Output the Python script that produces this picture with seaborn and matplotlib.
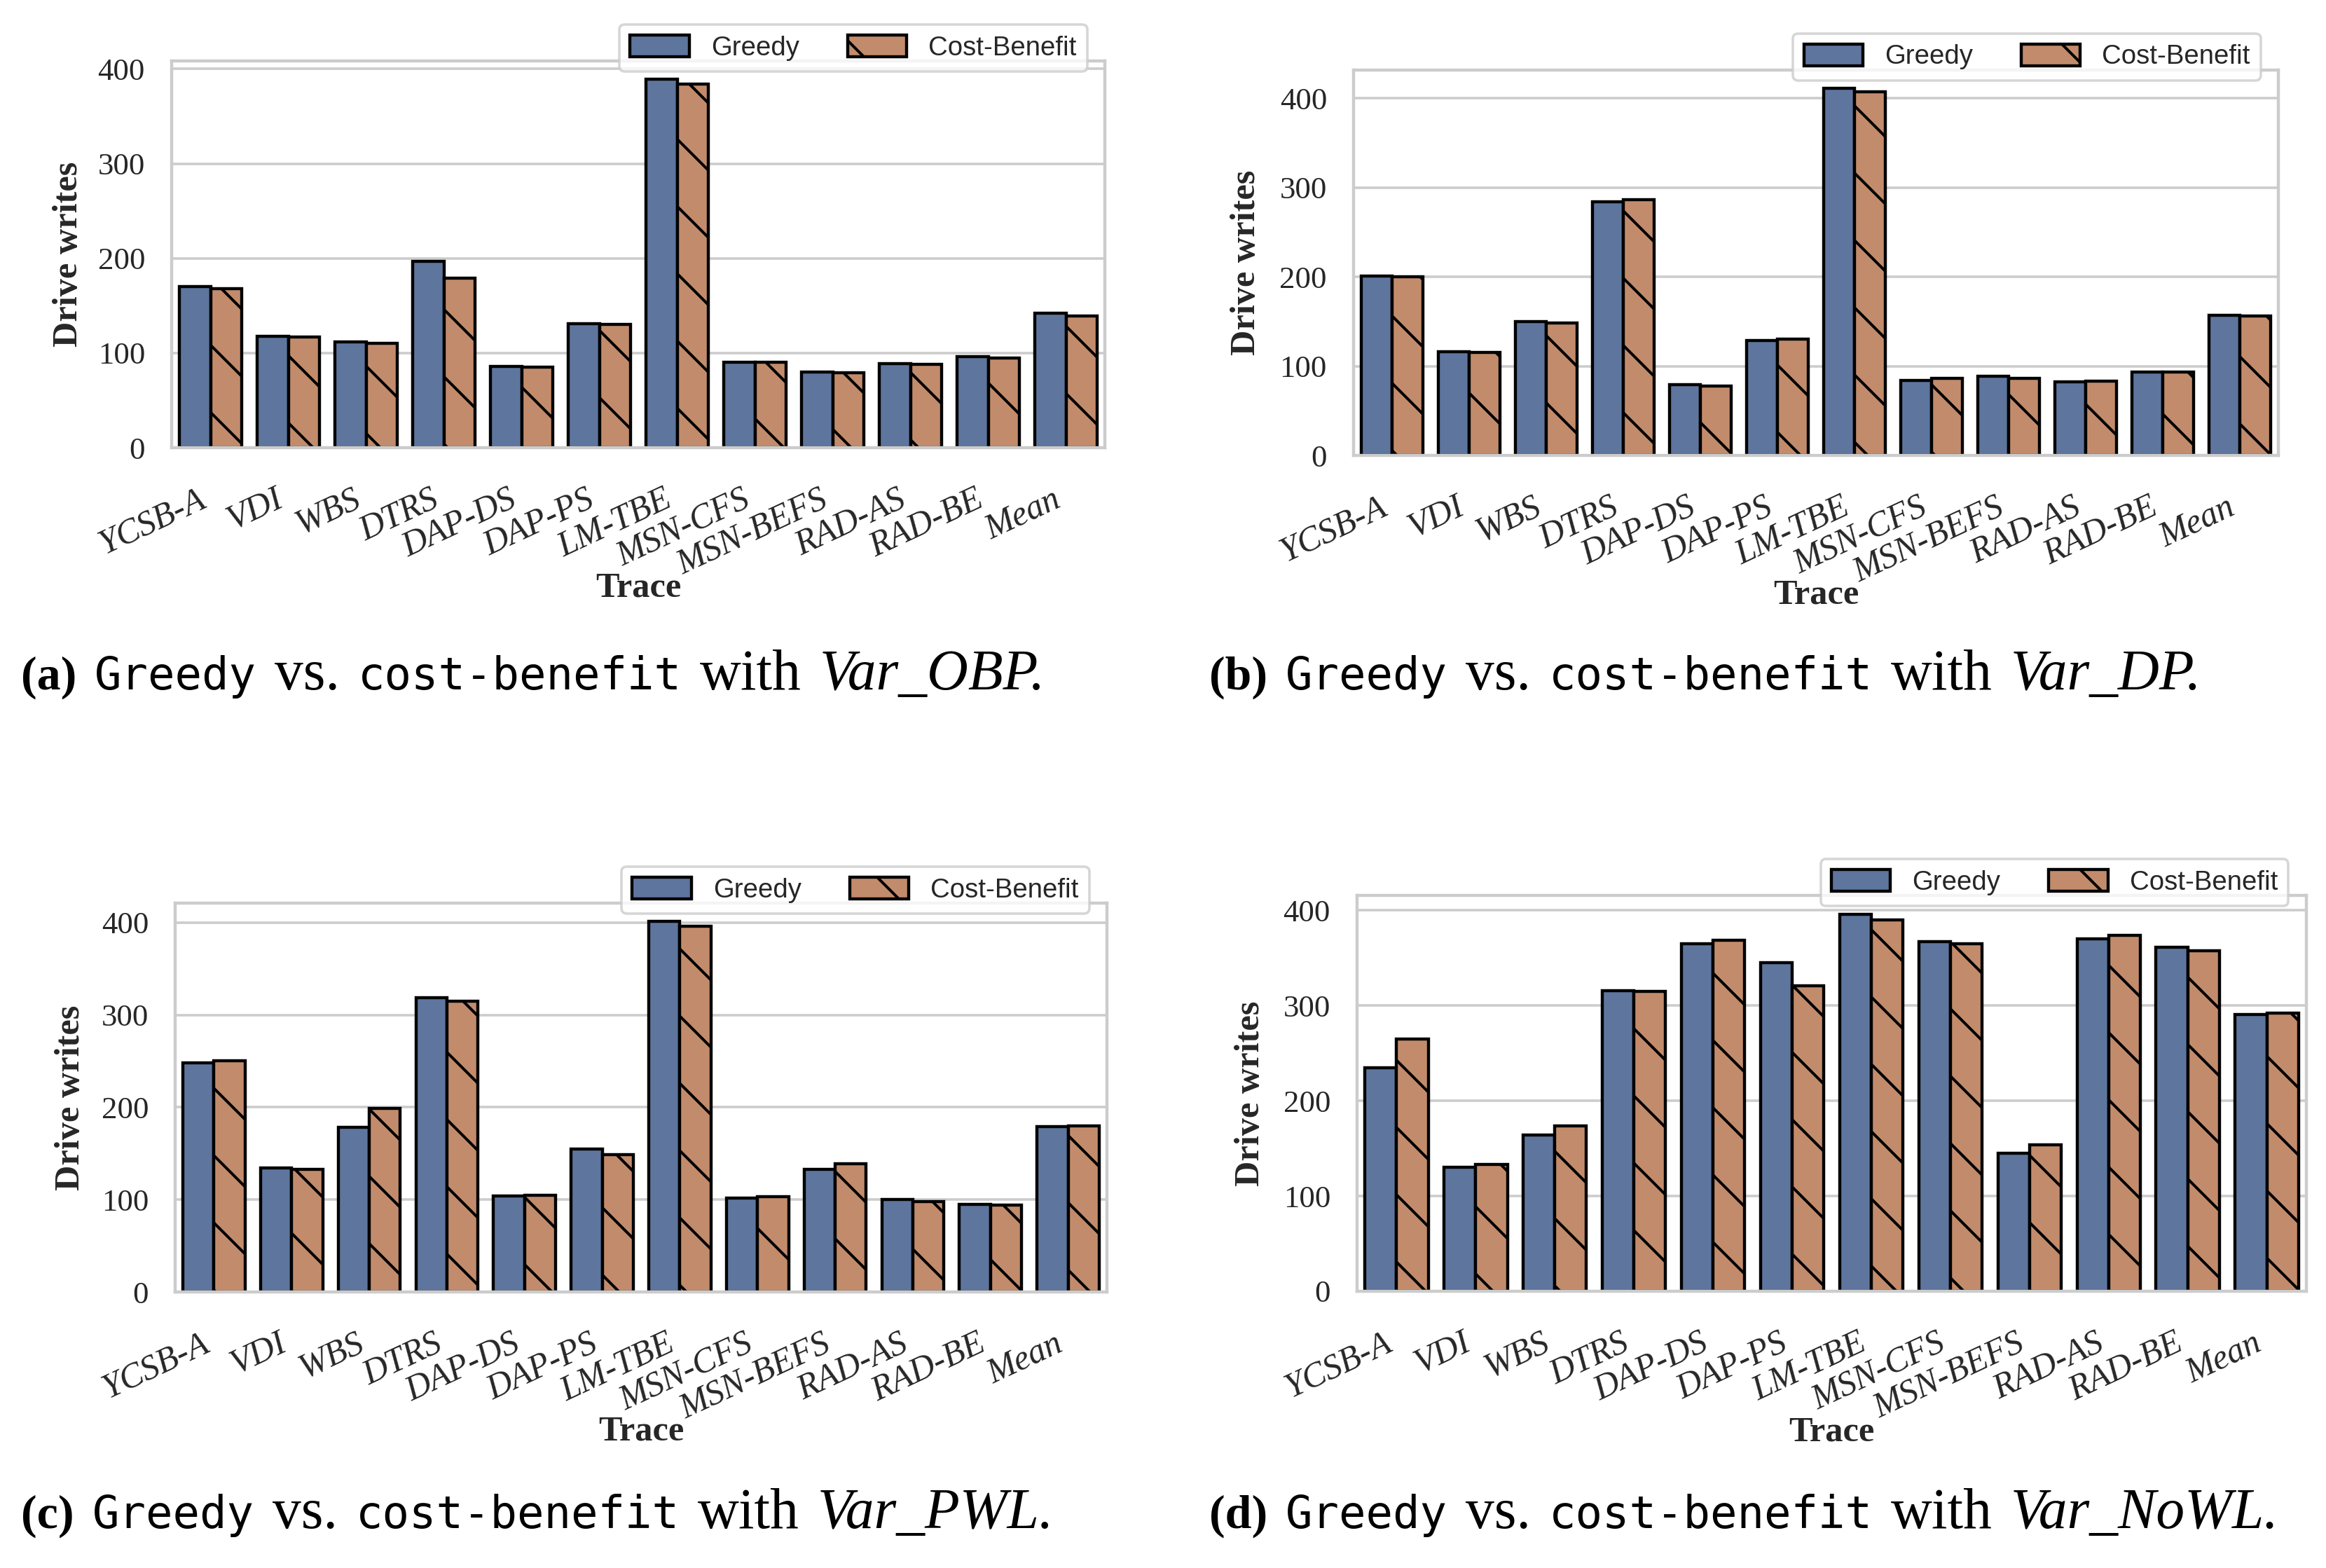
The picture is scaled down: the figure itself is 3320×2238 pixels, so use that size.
import pandas as pd
import seaborn as sns
import matplotlib.pyplot as plt

# data
traces = ["YCSB-A", "VDI", "WBS", "DTRS", "DAP-DS", "DAP-PS", "LM-TBE",
          "MSN-CFS", "MSN-BEFS", "RAD-AS", "RAD-BE", "Mean"]
policies = ["Greedy", "Cost-Benefit"]

obp_greedy = [170, 118, 112, 197, 86, 131, 389, 90, 80, 89, 96, 142]
obp_cb = [168, 117, 110, 179, 85, 130, 384, 90, 79, 88, 95, 139]

dp_greedy = [201, 116, 150, 284, 79, 129, 411, 84, 89, 82, 93, 157]
dp_cb = [200, 115, 148, 286, 78, 130, 407, 86, 86, 83, 93, 156]

pwl_greedy = [248, 134, 178, 319, 104, 155, 401, 102, 133, 100, 95, 179]
pwl_cb = [250, 133, 199, 315, 105, 149, 396, 103, 139, 98, 94, 180]

nowl_greedy = [235, 130, 164, 316, 365, 345, 396, 367, 145, 370, 361, 291]
nowl_cb = [265, 133, 174, 315, 369, 321, 390, 365, 154, 374, 358, 292]

letters = ["a", "b", "c", "d"]
variants = ["Var_OBP", "Var_DP", "Var_PWL", "Var_NoWL"]

W, H, DPI = 3320, 2238, 576
SERIF = "Liberation Serif"
MONO = "DejaVu Sans Mono"

sns.set_theme(style="whitegrid")
plt.rcParams["font.family"] = [SERIF, "DejaVu Sans"]
plt.rcParams["hatch.linewidth"] = 0.5
plt.rcParams["hatch.color"] = "black"
plt.rcParams["axes.linewidth"] = 0.5
plt.rcParams["grid.linewidth"] = 0.45

fig = plt.figure(figsize=(W / DPI, H / DPI), dpi=DPI)

# axes boxes in pixels: left, right, top, bottom
boxes = [(245, 1577, 87, 639), (1932, 3252, 100, 650),
         (250, 1580, 1289, 1844), (1937, 3292, 1278, 1843)]
ylab_x = [-0.110, -0.116, -0.112, -0.112]
xlab_y = [-0.364, -0.362, -0.360, -0.357]
cap_pos = [(30, 984), (1726, 984), (30, 2181), (1726, 2181)]

series = [(obp_greedy, obp_cb), (dp_greedy, dp_cb),
          (pwl_greedy, pwl_cb), (nowl_greedy, nowl_cb)]

for i, (g, cb) in enumerate(series):
    l, r, t, b = boxes[i]
    ax = fig.add_axes([l / W, 1 - b / H, (r - l) / W, (b - t) / H])
    df = pd.DataFrame({
        "Trace": traces * 2,
        "Drive writes": g + cb,
        "Policy": [policies[0]] * len(traces) + [policies[1]] * len(traces),
    })
    sns.barplot(data=df, x="Trace", y="Drive writes", hue="Policy",
                hue_order=policies, palette=["#5e769e", "#c28c6c"],
                saturation=1, edgecolor="black", linewidth=0.55,
                legend=False, ax=ax)
    for p in ax.containers[1]:
        p.set_hatch("\\\\")

    ax.set_xlabel("Trace", fontsize=6.3, fontweight="bold", family=SERIF)
    ax.set_ylabel("Drive writes", fontsize=6.3, fontweight="bold", family=SERIF)
    ax.xaxis.label.set_va("center")
    ax.yaxis.label.set_va("center")
    ax.xaxis.set_label_coords(0.5, xlab_y[i])
    ax.yaxis.set_label_coords(ylab_x[i], 0.5)

    ax.tick_params(axis="y", length=0, pad=4.75, labelsize=5.6)
    ax.tick_params(axis="x", length=0, pad=6.3, labelsize=6.2)
    for lab in ax.get_xticklabels():
        lab.set_rotation(25)
        lab.set_ha("right")
        lab.set_style("italic")
    for s in ax.spines.values():
        s.set_linewidth(0.55)
        s.set_color("#cccccc")

    leg = ax.legend(handles=[ax.containers[0], ax.containers[1]], labels=policies,
                    loc="lower right", bbox_to_anchor=(0.981, 0.973),
                    borderaxespad=0, ncol=2, frameon=True,
                    handlelength=2.2, handleheight=0.85, columnspacing=1.8,
                    prop={"family": "Liberation Sans", "size": 4.8})
    leg.get_frame().set_edgecolor("#cccccc")
    leg.get_frame().set_linewidth(0.45)

# captions, built piece by piece
renderer = fig.canvas.get_renderer()
gap = 26
for i in range(4):
    x0, y0 = cap_pos[i]
    pieces = [("(" + letters[i] + ")", dict(family=SERIF, weight="bold", size=8.5)),
              ("Greedy", dict(family=MONO, size=8)),
              ("vs.", dict(family=SERIF, size=10.2)),
              ("cost-benefit", dict(family=MONO, size=8)),
              ("with", dict(family=SERIF, size=10.2)),
              (variants[i] + ".", dict(family=SERIF, style="italic", size=10.2))]
    x = x0
    for txt, kw in pieces:
        tt = fig.text(x / W, 1 - y0 / H, txt, va="baseline",
                      ha="left", color="black", **kw)
        x = tt.get_window_extent(renderer=renderer).x1 + gap

fig.savefig("out.png", dpi=DPI)
